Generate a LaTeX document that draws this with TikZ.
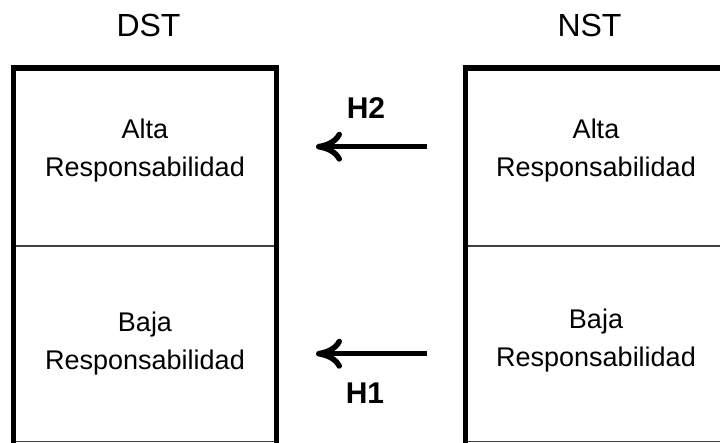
\documentclass[tikz,border=0pt]{standalone}
\usepackage{fontspec}
\setmainfont{Liberation Sans}
\usetikzlibrary{arrows.meta}
\begin{document}
\begin{tikzpicture}[x=1pt,y=-1pt,
  frame/.style={line width=5.5pt, line join=miter},
  divider/.style={line width=1.5pt, draw=black!75},
  cell/.style={align=center, inner sep=0pt, anchor=base,
    font=\fontsize{27}{38.5}\selectfont},
  title/.style={font=\fontsize{32}{32}\selectfont, anchor=base, inner sep=0pt},
  hyp/.style={font=\bfseries\fontsize{30}{30}\selectfont, anchor=base, inner sep=0pt},
  hyparrow/.style={line width=5pt, -{Computer Modern Rightarrow[length=26pt,width=30pt,line width=5.5pt]}}
]
\useasboundingbox (0,0) rectangle (720,443);
\clip (0,0) rectangle (720,443);

% column titles
\node[title] (dstTitle) at (148.5,37) {DST};
\node[title] (nstTitle) at (589.5,37) {NST};

% DST column: two cells under a heavy open frame
\draw[divider] (13.5,246) -- (276.5,246);
\draw[divider] (13.5,441.5) -- (276.5,441.5);
\draw[frame] (13.5,450) -- (13.5,68) -- (276.5,68) -- (276.5,450);

% NST column, running past the right edge
\draw[divider] (465.5,246) -- (760,246);
\draw[divider] (465.5,441.5) -- (760,441.5);
\draw[frame] (465.5,450) -- (465.5,68) -- (760,68);

% cell texts (anchored on the baseline of the last line)
\node[cell] (dstHigh) at (145,176.7) {Alta\\Responsabilidad};
\node[cell] (dstLow)  at (145,370)   {Baja\\Responsabilidad};
\node[cell] (nstHigh) at (596,176.7) {Alta\\Responsabilidad};
\node[cell] (nstLow)  at (596,366.7) {Baja\\Responsabilidad};

% hypothesis arrows
\coordinate (h2tail) at (427,146.7);
\coordinate (h2head) at (316,146.7);
\coordinate (h1tail) at (427,353.7);
\coordinate (h1head) at (316,353.7);
\draw[hyparrow] (h2tail) -- (h2head);
\draw[hyparrow] (h1tail) -- (h1head);
\node[hyp] (h2) at (366,119) {H2};
\node[hyp] (h1) at (365,403) {H1};
\end{tikzpicture}
\end{document}
